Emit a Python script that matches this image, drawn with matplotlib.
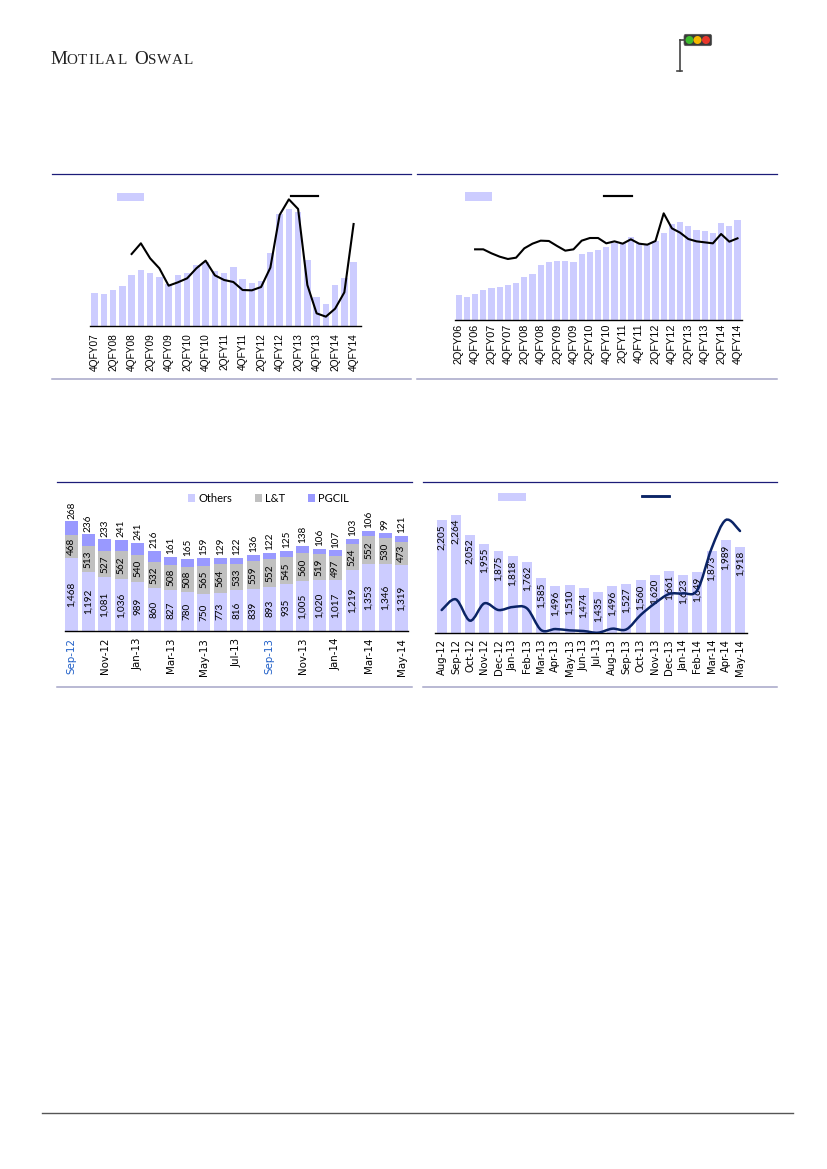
import matplotlib
matplotlib.use("Agg")
import numpy as np
import matplotlib.pyplot as plt
from matplotlib.lines import Line2D
from matplotlib.patches import Patch, FancyBboxPatch, Ellipse, PathPatch
from matplotlib.path import Path

W, H = 827, 1169

# ── Data ──────────────────────────────────────────────────────────────────────

# chart 1: quarterly bars + line (no axis scale printed, values in chart units)
c1_quarters = ["4QFY07", "1QFY08", "2QFY08", "3QFY08", "4QFY08", "1QFY09", "2QFY09",
               "3QFY09", "4QFY09", "1QFY10", "2QFY10", "3QFY10", "4QFY10", "1QFY11",
               "2QFY11", "3QFY11", "4QFY11", "1QFY12", "2QFY12", "3QFY12", "4QFY12",
               "1QFY13", "2QFY13", "3QFY13", "4QFY13", "1QFY14", "2QFY14", "3QFY14",
               "4QFY14"]
c1_bars = [98, 95, 107, 120, 153, 167, 160, 147, 125, 153, 160, 182, 192, 166, 160,
           176, 142, 128, 134, 219, 335, 351, 343, 199, 88, 66, 123, 145, 191]
c1_line_start = 4
c1_line = [216, 248, 203, 173, 121, 131, 143, 173, 196, 152, 138, 132, 108, 107, 117,
           175, 333, 380, 351, 123, 38, 28, 52, 101, 306]

# chart 2: quarterly bars + line
c2_quarters = ["2QFY06", "3QFY06", "4QFY06", "1QFY07", "2QFY07", "3QFY07", "4QFY07",
               "1QFY08", "2QFY08", "3QFY08", "4QFY08", "1QFY09", "2QFY09", "3QFY09",
               "4QFY09", "1QFY10", "2QFY10", "3QFY10", "4QFY10", "1QFY11", "2QFY11",
               "3QFY11", "4QFY11", "1QFY12", "2QFY12", "3QFY12", "4QFY12", "1QFY13",
               "2QFY13", "3QFY13", "4QFY13", "1QFY14", "2QFY14", "3QFY14", "4QFY14"]
c2_bars = [75, 70, 78, 89, 96, 99, 105, 111, 129, 139, 164, 173, 177, 177, 173, 198,
           204, 210, 219, 230, 232, 248, 232, 225, 237, 262, 288, 294, 282, 270, 267,
           261, 292, 282, 300]
c2_line_start = 2
c2_line = [212, 212, 200, 190, 183, 187, 215, 229, 238, 237, 222, 208, 212, 238, 246,
           246, 230, 236, 229, 242, 229, 226, 237, 320, 275, 262, 243, 236, 233, 230,
           258, 235, 245]

# chart 3: monthly order split
c3_months = ["Sep-12", "Oct-12", "Nov-12", "Dec-12", "Jan-13", "Feb-13", "Mar-13",
             "Apr-13", "May-13", "Jun-13", "Jul-13", "Aug-13", "Sep-13", "Oct-13",
             "Nov-13", "Dec-13", "Jan-14", "Feb-14", "Mar-14", "Apr-14", "May-14"]
c3_others = [1468, 1192, 1081, 1036, 989, 860, 827, 780, 750, 773, 816, 839, 893, 935,
             1005, 1020, 1017, 1219, 1353, 1346, 1319]
c3_lt = [468, 513, 527, 562, 540, 532, 508, 508, 565, 564, 533, 559, 552, 545, 560,
         519, 497, 524, 552, 530, 473]
c3_pgcil = [268, 236, 233, 241, 241, 216, 161, 165, 159, 129, 122, 136, 122, 125, 138,
            106, 107, 103, 106, 99, 121]
c3_series = ["Others", "L&T", "PGCIL"]

# chart 4: monthly bars + smoothed line
c4_months = ["Aug-12", "Sep-12", "Oct-12", "Nov-12", "Dec-12", "Jan-13", "Feb-13",
             "Mar-13", "Apr-13", "May-13", "Jun-13", "Jul-13", "Aug-13", "Sep-13",
             "Oct-13", "Nov-13", "Dec-13", "Jan-14", "Feb-14", "Mar-14", "Apr-14",
             "May-14"]
c4_bars = [2205, 2264, 2052, 1955, 1875, 1818, 1762, 1585, 1496, 1510, 1474, 1435,
           1496, 1527, 1560, 1620, 1661, 1623, 1649, 1873, 1989, 1918]
c4_line = [68, 100, 36, 88, 68, 77, 73, 8, 11, 7, 5, 0, 12, 10, 53, 88, 116, 118, 128,
           253, 338, 305]

LAV = "#CCCCFF"
PURPLE = "#9999FF"
GREY = "#C0C0C0"
NAVY = "#0B2466"
RULE_TOP = "#1C1C78"
RULE_BOT = "#A6A6C8"


def fx(x):
    return x / W


def fy(y):
    return 1 - y / H


fig = plt.figure(figsize=(W / 100, H / 100), dpi=100)
renderer = fig.canvas.get_renderer()


def add_ax(left, top, right, bottom):
    ax = fig.add_axes([fx(left), fy(bottom), (right - left) / W, (bottom - top) / H])
    for s in ("top", "left", "right"):
        ax.spines[s].set_visible(False)
    ax.spines["bottom"].set_color("black")
    ax.spines["bottom"].set_linewidth(1.0)
    ax.set_yticks([])
    ax.tick_params(axis="x", length=0)
    ax.patch.set_alpha(0)
    return ax


def rule(x0, x1, y, color, lw):
    fig.add_artist(Line2D([fx(x0), fx(x1)], [fy(y), fy(y)], transform=fig.transFigure,
                          color=color, lw=lw))


def swatch(ax, handle, x, y, w, h, fs=8):
    em = fs * 100 / 72
    leg = ax.legend([handle], [""], loc="center left", bbox_to_anchor=(fx(x), fy(y)),
                    bbox_transform=fig.transFigure, frameon=False, fontsize=fs,
                    handlelength=w / em, handleheight=h / em, borderpad=0,
                    borderaxespad=0, handletextpad=0)
    ax.add_artist(leg)


def spaced_text(x, y, s, size, track, **kw):
    # letter-spaced text, one glyph at a time
    for ch in s:
        t = fig.text(fx(x), fy(y), ch, fontsize=size, **kw)
        x += t.get_window_extent(renderer).width + track
    return x


def smooth_path(x, y):
    px = np.concatenate([[x[0]], x, [x[-1]]]).astype(float)
    py = np.concatenate([[y[0]], y, [y[-1]]]).astype(float)
    verts = [(px[1], py[1])]
    codes = [Path.MOVETO]
    for i in range(len(x) - 1):
        c1 = (px[i + 1] + (px[i + 2] - px[i]) / 6, py[i + 1] + (py[i + 2] - py[i]) / 6)
        c2 = (px[i + 2] - (px[i + 3] - px[i + 1]) / 6, py[i + 2] - (py[i + 3] - py[i + 1]) / 6)
        verts += [c1, c2, (px[i + 2], py[i + 2])]
        codes += [Path.CURVE4] * 3
    return Path(verts, codes)


# ── Page header ───────────────────────────────────────────────────────────────
serif = dict(family="Liberation Serif", color="#222222", va="baseline")
spaced_text(50, 64.3, "M", 13.8, 1.5, **serif)
spaced_text(66, 64.3, "OTILAL", 10.9, 1.2, **serif)
spaced_text(134, 64.3, "O", 13.8, 1.5, **serif)
spaced_text(148, 64.3, "SWAL", 10.9, 0.6, **serif)

# traffic light logo
fig.add_artist(Line2D([fx(679.5), fx(679.5)], [fy(40), fy(70.7)], transform=fig.transFigure,
                      color="#444444", lw=1.2))
fig.add_artist(Line2D([fx(679.5), fx(684)], [fy(40), fy(40)], transform=fig.transFigure,
                      color="#444444", lw=1.2))
fig.add_artist(Line2D([fx(677), fx(682)], [fy(70.7), fy(70.7)], transform=fig.transFigure,
                      color="#444444", lw=1.2))
fig.add_artist(FancyBboxPatch((fx(684), fy(45.7)), fx(27.7), 11.4 / H,
                              boxstyle="round,pad=0,rounding_size=0.002",
                              transform=fig.transFigure, facecolor="#3a3a3a",
                              edgecolor="#555555", lw=0.5))
for cx, col in [(689.5, "#3DBB2E"), (697.5, "#F5B800"), (706, "#E8372C")]:
    fig.add_artist(Ellipse((fx(cx), fy(40)), 8 / W, 8 / H, transform=fig.transFigure,
                           facecolor=col, edgecolor="none"))

# ── Frame rules ───────────────────────────────────────────────────────────────
rule(51.7, 411, 174.3, RULE_TOP, 0.9)
rule(417, 777, 174.3, RULE_TOP, 0.9)
rule(51.7, 411, 379.3, RULE_BOT, 1.1)
rule(417, 777, 379.3, RULE_BOT, 1.1)
rule(56.7, 411.7, 481.7, RULE_TOP, 0.9)
rule(423.3, 776.7, 481.7, RULE_TOP, 0.9)
rule(56.7, 411.7, 687, RULE_BOT, 1.1)
rule(423.3, 776.7, 687, RULE_BOT, 1.1)
rule(42, 793, 1113, "#555555", 1.0)

sans = "Liberation Sans"

# ── Chart 1 ───────────────────────────────────────────────────────────────────
ax1 = add_ax(90, 186, 361, 326)
x1 = np.arange(len(c1_quarters))
ax1.bar(x1, c1_bars, width=0.72, color=LAV, linewidth=0)
ax1.plot(x1[c1_line_start:], c1_line, color="black", lw=1.5)
ax1.set_xlim(-0.5, 28.8)
ax1.set_ylim(0, 420)
ax1.set_xticks(x1[::2])
ax1.set_xticklabels(c1_quarters[::2], rotation=90, fontsize=7.3, family=sans)
ax1.tick_params(axis="x", pad=5)
swatch(ax1, Patch(facecolor=LAV, linewidth=0), 117, 198, 27, 8)
swatch(ax1, Line2D([], [], color="black", lw=1.5), 291, 196.7, 27, 8)

# ── Chart 2 ───────────────────────────────────────────────────────────────────
ax2 = add_ax(455, 186, 742, 320)
x2 = np.arange(len(c2_quarters))
ax2.bar(x2, c2_bars, width=0.74, color=LAV, linewidth=0)
ax2.plot(x2[c2_line_start:], c2_line, color="black", lw=1.5)
ax2.set_xlim(-0.45, 34.55)
ax2.set_ylim(0, 402)
ax2.set_xticks(x2[::2])
ax2.set_xticklabels(c2_quarters[::2], rotation=90, fontsize=7.8, family=sans)
ax2.tick_params(axis="x", pad=2.5)
swatch(ax2, Patch(facecolor=LAV, linewidth=0), 465, 197.5, 27, 9)
swatch(ax2, Line2D([], [], color="black", lw=1.5), 604, 196.7, 28, 8)

# ── Chart 3 ───────────────────────────────────────────────────────────────────
ax3 = add_ax(65, 490, 408, 631)
x3 = np.arange(len(c3_months))
others = np.array(c3_others)
lt = np.array(c3_lt)
pg = np.array(c3_pgcil)
b_oth = ax3.bar(x3, others, width=0.77, color=LAV, linewidth=0, label=c3_series[0])
b_lt = ax3.bar(x3, lt, bottom=others, width=0.77, color=GREY, linewidth=0, label=c3_series[1])
b_pg = ax3.bar(x3, pg, bottom=others + lt, width=0.77, color=PURPLE, linewidth=0,
               label=c3_series[2])
lab_font = dict(family=["Lato", "DejaVu Sans"], fontsize=7.2)
ax3.bar_label(b_oth, labels=[f"{v:,}" for v in c3_others], label_type="center",
              rotation=90, **lab_font)
ax3.bar_label(b_lt, labels=[f"{v:,}" for v in c3_lt], label_type="center",
              rotation=90, **lab_font)
for i, v in enumerate(c3_pgcil):
    ax3.annotate(f"{v}", (x3[i], others[i] + lt[i] + v), xytext=(0, 2),
                 textcoords="offset points", rotation=90, ha="center", va="bottom",
                 **lab_font)
ax3.set_xlim(-0.41, 20.38)
ax3.set_ylim(0, 2834)
ax3.set_xticks(x3[::2])
ax3.set_xticklabels(c3_months[::2], rotation=90, fontsize=7.4, family="DejaVu Sans")
for lbl, m in zip(ax3.get_xticklabels(), c3_months[::2]):
    if m.startswith("Sep"):
        lbl.set_color("#1F5FC8")
ax3.tick_params(axis="x", pad=5)
ax3.legend(loc="center", bbox_to_anchor=(fx(268.5), fy(498.5)),
           bbox_transform=fig.transFigure, ncol=3, frameon=False,
           prop={"family": "Lato", "size": 8}, handlelength=0.65, handleheight=0.65,
           handletextpad=0.3, columnspacing=2.0, borderpad=0, borderaxespad=0)

# ── Chart 4 ───────────────────────────────────────────────────────────────────
ax4 = add_ax(435, 490, 746.7, 632.7)
x4 = np.arange(len(c4_months))
ax4.bar(x4, c4_bars, width=0.7, color=LAV, linewidth=0)
for i, v in enumerate(c4_bars):
    ax4.annotate(f"{v:,}", (x4[i], v), xytext=(0, -3), textcoords="offset points",
                 rotation=90, ha="center", va="top", family=["Lato", "DejaVu Sans"],
                 fontsize=7.2)
ax4.set_xlim(-0.47, 21.47)
ax4.set_ylim(1000, 2530)
ax4.set_xticks(x4)
ax4.set_xticklabels(c4_months, rotation=90, fontsize=7.2, family="DejaVu Sans")
ax4.tick_params(axis="x", pad=4.5)

ax4b = ax4.twinx()
ax4b.set_ylim(0, 428)
ax4b.axis("off")
ax4b.add_patch(PathPatch(smooth_path(x4, c4_line), facecolor="none", edgecolor=NAVY,
                         lw=1.8, capstyle="round"))
swatch(ax4, Patch(facecolor=LAV, linewidth=0), 498, 498, 28, 8)
swatch(ax4, Line2D([], [], color=NAVY, lw=1.8), 642, 496.7, 27, 8)

fig.savefig("out.png", dpi=100)
